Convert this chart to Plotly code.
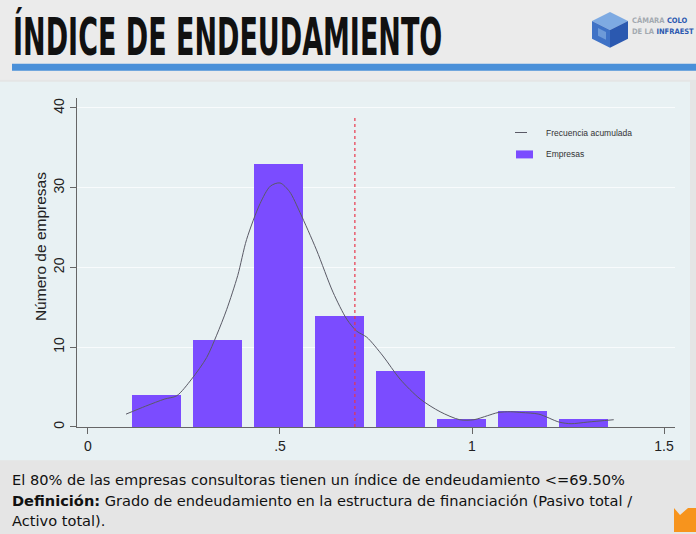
import plotly.graph_objects as go

# ---------------- data ----------------
bin_start = 0.098
bin_width = 0.159
counts = [4, 11, 33, 14, 7, 1, 2, 1]

curve_x = [0.099, 0.15, 0.2, 0.231, 0.27, 0.309, 0.335, 0.361, 0.39, 0.413, 0.448,
           0.475, 0.5, 0.525, 0.552, 0.595, 0.638, 0.674, 0.70, 0.726, 0.768, 0.8125,
           0.865, 0.917, 0.968, 1.005, 1.04, 1.068, 1.10, 1.13, 1.174, 1.227, 1.258,
           1.30, 1.369]
curve_y = [1.6, 2.6, 3.5, 3.9, 6.0, 8.7, 11.5, 14.7, 19.0, 23.5, 28.0,
           30.2, 30.6, 29.5, 26.9, 22.2, 16.9, 13.5, 12.0, 11.25, 8.9, 6.0,
           3.5, 1.9, 0.9, 0.9, 1.4, 1.8, 1.9, 1.8, 1.6, 0.6, 0.4,
           0.6, 0.9]

threshold = 0.695
x_ticks = [0, 0.5, 1, 1.5]
x_tick_labels = ["0", ".5", "1", "1.5"]
y_ticks = [0, 10, 20, 30, 40]

title_text = "ÍNDICE DE ENDEUDAMIENTO"
y_title = "Número de empresas"
legend_line = "Frecuencia acumulada"
legend_bar = "Empresas"
note1 = "El 80% de las empresas consultoras tienen un índice de endeudamiento &lt;=69.50%"
note2 = "<b>Definición:</b> Grado de endeudamiento en la estructura de financiación (Pasivo total /"
note3 = "Activo total)."

# ---------------- figure ----------------
W, H = 696, 534
def px(x):
    return x / W
def py(y):
    return 1 - y / H

centers = [bin_start + bin_width * (i + 0.5) for i in range(len(counts))]

fig = go.Figure()
fig.add_trace(go.Bar(x=centers, y=counts, width=bin_width * 0.8,
                     marker=dict(color="#7b4cff", line=dict(width=0)),
                     name=legend_bar, showlegend=False))
fig.add_trace(go.Scatter(x=curve_x, y=curve_y, mode="lines",
                         line=dict(color="#5a5a66", width=1, shape="spline", smoothing=0.8),
                         name=legend_line, showlegend=False))

shapes = []
annotations = []
# backgrounds
shapes.append(dict(type="rect", xref="paper", yref="paper", x0=0, x1=1, y0=py(80), y1=1,
                   fillcolor="#ebebeb", line=dict(width=0), layer="below"))
shapes.append(dict(type="rect", xref="paper", yref="paper", x0=0, x1=px(690), y0=py(462), y1=py(82),
                   fillcolor="#e8f1f3", line=dict(width=0), layer="below"))
shapes.append(dict(type="rect", xref="paper", yref="paper", x0=px(12), x1=1, y0=py(71), y1=py(64),
                   fillcolor="#4a90d9", line=dict(width=0), layer="below"))
# red threshold line
shapes.append(dict(type="line", xref="x", yref="y", x0=threshold, x1=threshold, y0=0, y1=39,
                   line=dict(color="#e8364a", width=1.2, dash="dot"), layer="above"))
# legend samples
shapes.append(dict(type="line", xref="paper", yref="paper", x0=px(515), x1=px(527), y0=py(133), y1=py(133),
                   line=dict(color="#5a5a66", width=1)))
shapes.append(dict(type="rect", xref="paper", yref="paper", x0=px(516), x1=px(533), y0=py(159), y1=py(151),
                   fillcolor="#7b4cff", line=dict(width=0)))
# logo cube
shapes.append(dict(type="path", xref="paper", yref="paper",
                   path=f"M{px(610)},{py(12)} L{px(628)},{py(21)} L{px(610)},{py(30)} L{px(592)},{py(21)} Z",
                   fillcolor="#7eaae2", line=dict(width=0)))
shapes.append(dict(type="path", xref="paper", yref="paper",
                   path=f"M{px(592)},{py(21)} L{px(610)},{py(30)} L{px(610)},{py(48)} L{px(592)},{py(39)} Z",
                   fillcolor="#3f72c6", line=dict(width=0)))
shapes.append(dict(type="path", xref="paper", yref="paper",
                   path=f"M{px(610)},{py(30)} L{px(628)},{py(21)} L{px(628)},{py(39)} L{px(610)},{py(48)} Z",
                   fillcolor="#2b59b0", line=dict(width=0)))
shapes.append(dict(type="path", xref="paper", yref="paper",
                   path=f"M{px(598)},{py(28)} L{px(606)},{py(32)} L{px(606)},{py(40)} L{px(598)},{py(36)} Z",
                   fillcolor="#6d9ad8", line=dict(width=0)))
# orange tab
shapes.append(dict(type="path", xref="paper", yref="paper",
                   path=f"M{px(674)},{py(510)} L{px(680)},{py(517)} L{px(688)},{py(510)} L{px(696)},{py(510)} L{px(696)},{py(534)} L{px(674)},{py(534)} Z",
                   fillcolor="#f7941d", line=dict(width=0)))

annotations.append(dict(xref="paper", yref="paper", x=px(11), y=py(69), xanchor="left", yanchor="bottom",
                        text=f"<b>{title_text}</b>", showarrow=False,
                        font=dict(family="DejaVu Sans Condensed", size=30, color="#111111")))
annotations.append(dict(xref="paper", yref="paper", x=px(630), y=py(21), xanchor="left", yanchor="middle",
                        text='<b><span style="color:#a3a9b0">CÁMARA</span> <span style="color:#2b59b0">COLO</span></b>',
                        showarrow=False, font=dict(family="DejaVu Sans Condensed", size=7.5)))
annotations.append(dict(xref="paper", yref="paper", x=px(630), y=py(32), xanchor="left", yanchor="middle",
                        text='<b><span style="color:#a3a9b0">DE LA</span> <span style="color:#2b59b0">INFRAEST</span></b>',
                        showarrow=False, font=dict(family="DejaVu Sans Condensed", size=7.5)))
annotations.append(dict(xref="paper", yref="paper", x=px(40), y=py(248), xanchor="center", yanchor="middle",
                        text=y_title, textangle=-90, showarrow=False,
                        font=dict(family="Liberation Sans", size=15.5, color="#222222")))
annotations.append(dict(xref="paper", yref="paper", x=px(544), y=py(133), xanchor="left", yanchor="middle",
                        text=legend_line, showarrow=False,
                        font=dict(family="Liberation Sans", size=8.5, color="#333333")))
annotations.append(dict(xref="paper", yref="paper", x=px(544), y=py(155), xanchor="left", yanchor="middle",
                        text=legend_bar, showarrow=False,
                        font=dict(family="Liberation Sans", size=8.5, color="#333333")))
for txt, yy in [(note1, 481), (note2, 502), (note3, 522)]:
    annotations.append(dict(xref="paper", yref="paper", x=px(10), y=py(yy), xanchor="left", yanchor="middle",
                            text=txt, showarrow=False,
                            font=dict(family="DejaVu Sans", size=14.6, color="#111111")))

fig.update_layout(
    width=W, height=H,
    margin=dict(l=0, r=0, t=0, b=0),
    paper_bgcolor="#e5e5e5",
    plot_bgcolor="#e1e1e1",
    bargap=0,
    showlegend=False,
    shapes=shapes,
    annotations=annotations,
    xaxis=dict(domain=[px(77), px(675)], range=[-0.0286, 1.5286],
               tickvals=x_ticks, ticktext=x_tick_labels, showgrid=False, zeroline=False,
               showline=True, linecolor="#666666", linewidth=1,
               ticks="outside", ticklen=6, tickcolor="#666666",
               tickfont=dict(family="Liberation Sans", size=14, color="#222222")),
    yaxis=dict(domain=[py(428.5), py(98)], range=[0, 41.3],
               tickvals=y_ticks, showgrid=True, gridcolor="rgba(255,255,255,0.7)", gridwidth=1,
               zeroline=False, showline=True, linecolor="#666666", linewidth=1,
               ticks="outside", ticklen=6, tickcolor="#666666", tickangle=-90,
               tickfont=dict(family="Liberation Sans", size=14, color="#222222")),
)

post = """
document.body.style.margin = '0';
document.body.style.overflow = 'hidden';
var gd = document.getElementsByClassName('plotly-graph-div')[0];
var els = gd.querySelectorAll('text.annotation-text');
els.forEach(function(t){
  if (t.textContent.indexOf('ENDEUDAMIENTO') >= 0 && t.textContent.indexOf('DE LA') < 0 && t.textContent.length < 30) {
    var bb = t.getBBox();
    var base = bb.y + bb.height;
    t.setAttribute('transform', 'translate(0,' + base + ') scale(1,1.72) translate(0,' + (-base) + ')');
  }
});
"""
fig.write_html("out.html", post_script=post, config={"displayModeBar": False})
